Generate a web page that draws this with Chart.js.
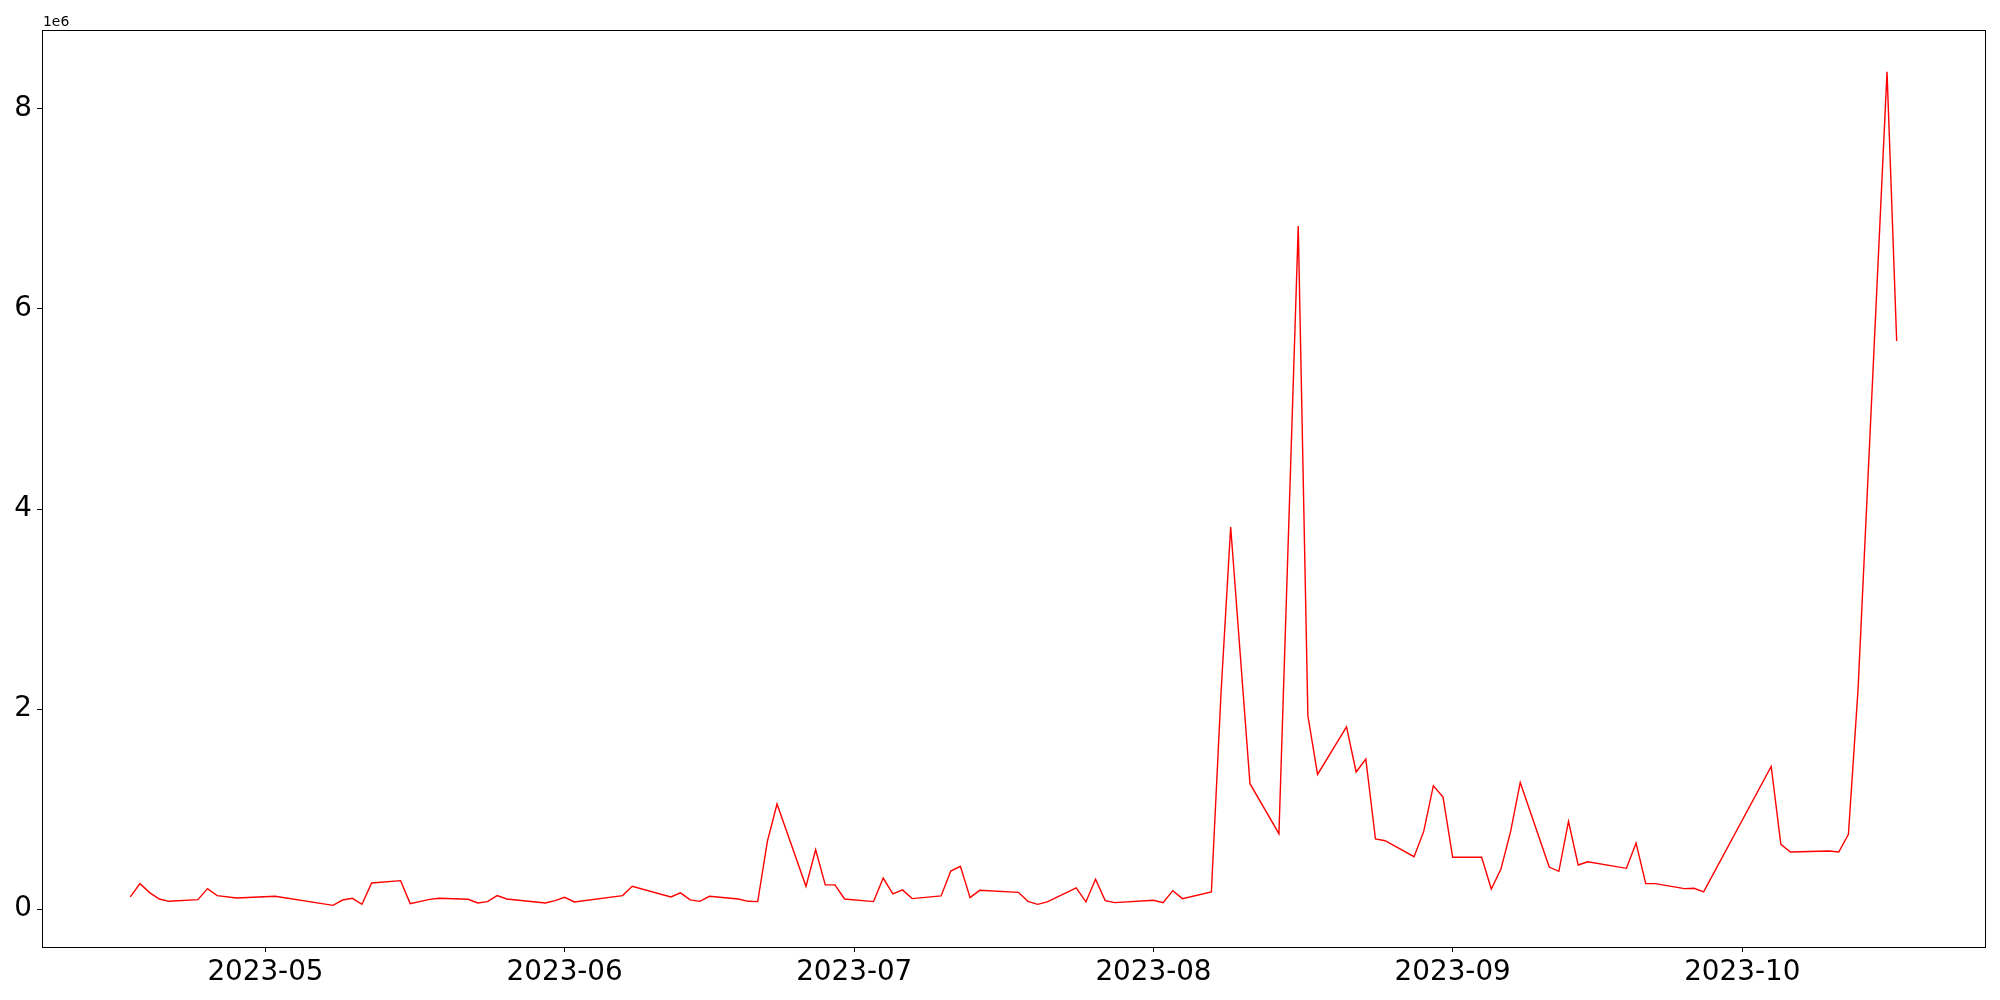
<!DOCTYPE html>
<html>
<head>
<meta charset="utf-8">
<script src="https://cdn.jsdelivr.net/npm/chart.js@4"></script>
<style>
  html, body { margin: 0; padding: 0; background: #fff; }
  canvas { display: block; }
</style>
</head>
<body>
<canvas id="chart" width="2000" height="1000"></canvas>
<script>
// Dates of each observation (trading days)
const dates = [
    "2023-04-17", "2023-04-18", "2023-04-19", "2023-04-20", "2023-04-21",
    "2023-04-24", "2023-04-25", "2023-04-26", "2023-04-28", "2023-05-02",
    "2023-05-08", "2023-05-09", "2023-05-10", "2023-05-11", "2023-05-12",
    "2023-05-15", "2023-05-16", "2023-05-18", "2023-05-19", "2023-05-22",
    "2023-05-23", "2023-05-24", "2023-05-25", "2023-05-26", "2023-05-30",
    "2023-05-31", "2023-06-01", "2023-06-02", "2023-06-07", "2023-06-08",
    "2023-06-12", "2023-06-13", "2023-06-14", "2023-06-15", "2023-06-16",
    "2023-06-19", "2023-06-20", "2023-06-21", "2023-06-22", "2023-06-23",
    "2023-06-26", "2023-06-27", "2023-06-28", "2023-06-29", "2023-06-30",
    "2023-07-03", "2023-07-04", "2023-07-05", "2023-07-06", "2023-07-07",
    "2023-07-10", "2023-07-11", "2023-07-12", "2023-07-13", "2023-07-14",
    "2023-07-18", "2023-07-19", "2023-07-20", "2023-07-21", "2023-07-24",
    "2023-07-25", "2023-07-26", "2023-07-27", "2023-07-28", "2023-08-01",
    "2023-08-02", "2023-08-03", "2023-08-04", "2023-08-07", "2023-08-08",
    "2023-08-09", "2023-08-11", "2023-08-14", "2023-08-16", "2023-08-17",
    "2023-08-18", "2023-08-21", "2023-08-22", "2023-08-23", "2023-08-24",
    "2023-08-25", "2023-08-28", "2023-08-29", "2023-08-30", "2023-08-31",
    "2023-09-01", "2023-09-04", "2023-09-05", "2023-09-06", "2023-09-07",
    "2023-09-08", "2023-09-11", "2023-09-12", "2023-09-13", "2023-09-14",
    "2023-09-15", "2023-09-19", "2023-09-20", "2023-09-21", "2023-09-22",
    "2023-09-25", "2023-09-26", "2023-09-27", "2023-10-04", "2023-10-05",
    "2023-10-06", "2023-10-10", "2023-10-11", "2023-10-12", "2023-10-13",
    "2023-10-16", "2023-10-17"
];

// Values in units of 1e6
const values = [
    0.121, 0.254, 0.164, 0.100, 0.077,
    0.094, 0.204, 0.134, 0.110, 0.127,
    0.037, 0.090, 0.107, 0.047, 0.260,
    0.284, 0.054, 0.097, 0.107, 0.097,
    0.061, 0.074, 0.134, 0.100, 0.061,
    0.084, 0.117, 0.071, 0.134, 0.227,
    0.121, 0.161, 0.091, 0.077, 0.127,
    0.100, 0.077, 0.074, 0.676, 1.050,
    0.227, 0.593, 0.241, 0.241, 0.100,
    0.074, 0.310, 0.151, 0.191, 0.104,
    0.131, 0.380, 0.427, 0.114, 0.187,
    0.167, 0.077, 0.047, 0.071, 0.211,
    0.071, 0.297, 0.084, 0.064, 0.087,
    0.064, 0.184, 0.104, 0.171, 2.160,
    3.820, 1.253, 0.753, 6.830, 1.932,
    1.346, 1.822, 1.370, 1.500, 0.700,
    0.683, 0.523, 0.776, 1.233, 1.120,
    0.517, 0.517, 0.200, 0.400, 0.773,
    1.266, 0.420, 0.377, 0.876, 0.440,
    0.473, 0.407, 0.660, 0.254, 0.254,
    0.204, 0.207, 0.171, 1.426, 0.646,
    0.570, 0.580, 0.570, 0.746, 2.200,
    8.373, 5.680
];

// Tick labels
const monthTicks = ["2023-05", "2023-06", "2023-07", "2023-08", "2023-09", "2023-10"];
const yTicks = [0, 2, 4, 6, 8];
const offsetText = "1e6";

const DAY = 86400000;
function dayNum(s) {
    const p = s.split("-").map(Number);
    return Date.UTC(p[0], p[1] - 1, p[2] || 1) / DAY;
}
function fmtMonth(d) {
    const dt = new Date(d * DAY);
    return dt.getUTCFullYear() + "-" + String(dt.getUTCMonth() + 1).padStart(2, "0");
}

const points = dates.map((d, i) => ({ x: dayNum(d), y: values[i] }));

// matplotlib-like 5% margins
const xs = points.map(p => p.x), ys = points.map(p => p.y);
const xMinD = Math.min(...xs), xMaxD = Math.max(...xs);
const yMinD = Math.min(...ys), yMaxD = Math.max(...ys);
const xPad = (xMaxD - xMinD) * 0.05, yPad = (yMaxD - yMinD) * 0.05;

const font = { family: "'DejaVu Sans', sans-serif", size: 27.8 };

// Draw box spines and the offset label
const framePlugin = {
    id: 'frame',
    afterDraw(chart) {
        const { ctx, chartArea: a } = chart;
        ctx.save();
        ctx.strokeStyle = '#000';
        ctx.lineWidth = 1;
        ctx.strokeRect(a.left + 0.5, a.top + 0.5, a.right - a.left, a.bottom - a.top);
        ctx.fillStyle = '#000';
        ctx.font = "13.9px 'DejaVu Sans', sans-serif";
        ctx.textAlign = 'left';
        ctx.textBaseline = 'alphabetic';
        ctx.fillText(offsetText, a.left + 1, a.top - 4);
        ctx.restore();
    }
};

new Chart(document.getElementById('chart'), {
    type: 'line',
    data: {
        datasets: [{
            data: points,
            borderColor: '#ff0000',
            borderWidth: 1.4,
            pointRadius: 0,
            tension: 0,
            fill: false
        }]
    },
    options: {
        responsive: false,
        animation: false,
        layout: { padding: { left: 0, top: 30, right: 15, bottom: 0 } },
        plugins: { legend: { display: false }, tooltip: { enabled: false } },
        scales: {
            x: {
                type: 'linear',
                min: xMinD - xPad,
                max: xMaxD + xPad,
                afterBuildTicks(scale) {
                    scale.ticks = monthTicks.map(m => ({ value: dayNum(m) }));
                },
                afterFit(scale) { scale.height = 53; },
                ticks: {
                    autoSkip: false,
                    maxRotation: 0,
                    color: '#000',
                    font: font,
                    padding: 4,
                    callback: v => fmtMonth(v)
                },
                grid: {
                    drawOnChartArea: false,
                    drawTicks: true,
                    tickLength: 5,
                    color: '#000'
                },
                border: { display: true, color: '#000', width: 1 }
            },
            y: {
                type: 'linear',
                min: yMinD - yPad,
                max: yMaxD + yPad,
                afterBuildTicks(scale) {
                    scale.ticks = yTicks.map(v => ({ value: v }));
                },
                afterFit(scale) { scale.width = 42; },
                ticks: {
                    color: '#000',
                    font: font,
                    padding: 5,
                    callback: v => String(v)
                },
                grid: {
                    drawOnChartArea: false,
                    drawTicks: true,
                    tickLength: 5,
                    color: '#000'
                },
                border: { display: true, color: '#000', width: 1 }
            }
        }
    },
    plugins: [framePlugin]
});
</script>
</body>
</html>
